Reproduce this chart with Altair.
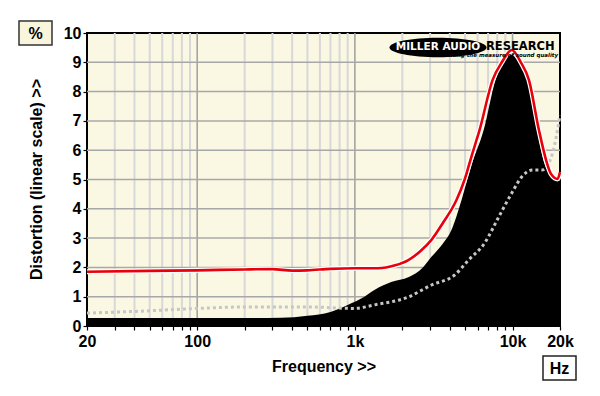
import altair as alt
import pandas as pd

# ---- data ----
black_f = [20, 50, 100, 200, 340, 500, 700, 900, 1150, 1330, 1700, 2200, 2700, 3060, 3600,
           4100, 4750, 5500, 6560, 7800, 8800, 9900, 10800, 12350, 14300, 15900, 17500, 19000, 20000]
black_v = [0.27, 0.27, 0.27, 0.27, 0.28, 0.35, 0.48, 0.72, 1.0, 1.23, 1.5, 1.67, 2.0, 2.36, 2.8,
           3.28, 4.3, 5.5, 6.69, 8.4, 9.05, 9.25, 9.05, 8.4, 6.69, 5.56, 5.15, 5.0, 5.2]

red_f = [20, 50, 100, 200, 300, 400, 500, 700, 1000, 1400, 1800, 2184, 2600, 3060, 3600,
         4410, 4970, 5500, 6180, 7480, 8550, 9890, 11290, 12700, 14700, 16530, 17500, 19300, 20000]
red_v = [1.85, 1.88, 1.9, 1.93, 1.94, 1.89, 1.9, 1.95, 1.97, 1.97, 2.07, 2.25, 2.55, 2.94, 3.5,
         4.3, 5.0, 5.8, 6.69, 8.4, 9.0, 9.42, 9.0, 8.4, 6.69, 5.56, 5.2, 5.02, 5.25]

dot_f = [20, 50, 100, 200, 500, 1000, 1330, 2184, 3060, 4290, 5265, 6650, 8170, 9890,
         11450, 13270, 15360, 17000, 18600, 20000]
dot_v = [0.44, 0.52, 0.6, 0.65, 0.65, 0.6, 0.72, 0.99, 1.4, 1.74, 2.25, 2.83, 3.72, 4.54,
         5.09, 5.32, 5.32, 5.56, 6.25, 7.2]

y_ticks = [0, 1, 2, 3, 4, 5, 6, 7, 8, 9, 10]
h_grid = [1, 2, 3, 4, 5, 6, 7, 8, 9]
x_ticks = [20, 30, 40, 50, 60, 70, 80, 90, 100, 200, 300, 400, 500, 600, 700, 800, 900,
           1000, 2000, 3000, 4000, 5000, 6000, 7000, 8000, 9000, 10000, 20000]
x_label_vals = [20, 100, 1000, 10000, 20000]
x_label_txt = ["20", "100", "1k", "10k", "20k"]
minor_grid = [30, 40, 50, 60, 70, 80, 90, 200, 300, 400, 500, 600, 700, 800, 900,
              2000, 3000, 4000, 5000, 6000, 7000, 8000, 9000]
major_grid = [100, 1000, 10000]

FONT = "Liberation Sans"
W, H = 473, 293

label_expr = "".join(f"datum.value == {v} ? '{t}' : " for v, t in zip(x_label_vals, x_label_txt)) + "''"

xscale = alt.Scale(type="log", domain=[20, 20000], nice=False)
yscale = alt.Scale(domain=[0, 10], nice=False, zero=False)

xaxis = alt.Axis(values=x_ticks, labelExpr=label_expr, grid=False, domain=False,
                 tickColor="black", tickSize=4, tickWidth=1.2, labelFont=FONT, labelFontSize=16,
                 labelFontWeight="bold", labelColor="black", labelPadding=3, labelFlush=False,
                 labelOverlap=False, title="Frequency >>", titleFont=FONT, titleFontSize=16,
                 titleFontWeight="bold", titleColor="black", titleX=236.5, titleY=40,
                 titleBaseline="middle", titleAlign="center")
yaxis = alt.Axis(values=y_ticks, grid=False, domain=False, tickColor="black", tickSize=4,
                 tickWidth=1.2, labelFont=FONT, labelFontSize=16, labelFontWeight="bold",
                 labelColor="black", labelPadding=2, title="Distortion (linear scale) >>",
                 titleFont=FONT, titleFontSize=16, titleFontWeight="bold", titleColor="black",
                 titleX=-51, titleY=146, titleAngle=-90, titleBaseline="middle", titleAlign="center")

X = alt.X("f:Q", scale=xscale, axis=xaxis)
Y = alt.Y("v:Q", scale=yscale, axis=yaxis)

black_df = pd.DataFrame({"f": black_f, "v": black_v})
red_df = pd.DataFrame({"f": red_f, "v": red_v})
dot_df = pd.DataFrame({"f": dot_f, "v": dot_v})

minor = alt.Chart(pd.DataFrame({"f": minor_grid})).mark_rule(color="#d8d8d8", strokeWidth=2).encode(x=X)
major = alt.Chart(pd.DataFrame({"f": major_grid})).mark_rule(color="#a4a4a4", strokeWidth=1.6).encode(x=X)
hgrid = alt.Chart(pd.DataFrame({"v": h_grid})).mark_rule(color="#a8a8a8", strokeWidth=1.5).encode(y=Y)

area = alt.Chart(black_df).mark_area(color="black", interpolate="monotone").encode(x=X, y=Y)
dots = alt.Chart(dot_df).mark_line(color="#c6c6c6", strokeWidth=3, strokeDash=[3, 3],
                                   interpolate="monotone").encode(x=X, y=Y)
halo = alt.Chart(red_df).mark_line(color="white", strokeWidth=5, interpolate="monotone").encode(x=X, y=Y)
red = alt.Chart(red_df).mark_line(color="#e8000b", strokeWidth=2.6, interpolate="monotone").encode(x=X, y=Y)

one = pd.DataFrame({"a": [0]})
ellipse = alt.Chart(one).mark_point(shape="M-1,0A1,0.2,0,1,1,1,0A1,0.2,0,1,1,-1,0Z", filled=True,
                                    color="black", opacity=1, size=9409).encode(
    x=alt.value(351), y=alt.value(14.5))
logo1 = alt.Chart(one).mark_text(text="MILLER AUDIO", font="DejaVu Sans", fontWeight="bold",
                                 fontSize=10.5, color="white", align="center", baseline="middle").encode(
    x=alt.value(351), y=alt.value(13.5))
logo2 = alt.Chart(one).mark_text(text="RESEARCH", font="DejaVu Sans", fontWeight="bold",
                                 fontSize=11.5, color="black", align="left", baseline="middle").encode(
    x=alt.value(399), y=alt.value(13.5))
logo3 = alt.Chart(one).mark_text(text="Getting the measure of sound quality", font="DejaVu Sans",
                                 fontWeight="bold", fontStyle="italic", fontSize=5.5, color="black",
                                 align="right", baseline="middle").encode(
    x=alt.value(471), y=alt.value(22))

pct_box = alt.Chart(one).mark_rect(fill="#f8f5dc", stroke="#333333", strokeWidth=1.5).encode(
    x=alt.value(-68), x2=alt.value(-35), y=alt.value(-12), y2=alt.value(12))
pct_txt = alt.Chart(one).mark_text(text="%", font=FONT, fontWeight="bold", fontSize=16,
                                   color="black", align="center", baseline="middle").encode(
    x=alt.value(-51.5), y=alt.value(0.5))
hz_box = alt.Chart(one).mark_rect(fill="white", stroke="#222222", strokeWidth=1.5).encode(
    x=alt.value(456), x2=alt.value(489), y=alt.value(323), y2=alt.value(347))
hz_txt = alt.Chart(one).mark_text(text="Hz", font=FONT, fontWeight="bold", fontSize=16,
                                  color="black", align="center", baseline="middle").encode(
    x=alt.value(472.5), y=alt.value(335.5))

chart = alt.layer(minor, major, hgrid, area, dots, halo, red, ellipse, logo1, logo2, logo3,
                  pct_box, pct_txt, hz_box, hz_txt).properties(
    width=W, height=H,
    autosize=alt.AutoSizeParams(type="none"),
    padding={"left": 79, "top": 25, "right": 30, "bottom": 60},
    background="white",
).configure_view(fill="#faf7e2", stroke="black", strokeWidth=2)

chart.save("out.html", embed_options={"renderer": "svg", "actions": False})
